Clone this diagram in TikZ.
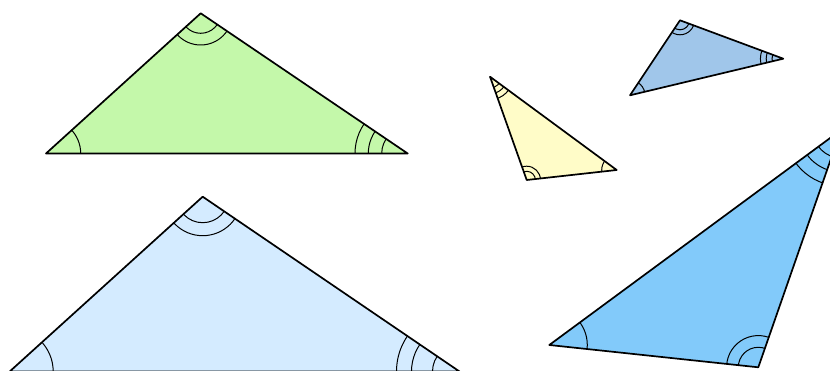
\documentclass[tikz,border=0pt]{standalone}
\usepackage{tikz}

\definecolor{greenfill}{RGB}{196,248,170}
\definecolor{palefill}{RGB}{212,235,255}
\definecolor{yellowfill}{RGB}{255,252,200}
\definecolor{steelfill}{RGB}{160,198,234}
\definecolor{skyfill}{RGB}{130,202,250}

\begin{document}
\begin{tikzpicture}[
  x=1pt, y=-1pt,
  tri/.style={draw=black, line width=1.7pt, line join=round},
  angarc/.style={draw=black, line width=1pt}
]
  \useasboundingbox (0,0) rectangle (830,371);
  \clip (0,0) rectangle (830,371);

  % vertices: 1 = one arc, 2 = two arcs, 3 = three arcs
  \coordinate (g1) at (46,153.5);
  \coordinate (g2) at (200.7,13.3);
  \coordinate (g3) at (407.7,153.5);

  \coordinate (b1) at (9.7,371.5);
  \coordinate (b2) at (202.7,196.7);
  \coordinate (b3) at (459.5,371.5);

  \coordinate (y1) at (616.7,170);
  \coordinate (y2) at (526.7,180);
  \coordinate (y3) at (490,76.7);

  \coordinate (s1) at (630,95.3);
  \coordinate (s2) at (680,20.3);
  \coordinate (s3) at (783.3,58.7);

  \coordinate (k1) at (549.3,345);
  \coordinate (k2) at (758.3,367.3);
  \coordinate (k3) at (841,130);

  % green triangle
  \fill[greenfill] (g1) -- (g2) -- (g3) -- cycle;
  \begin{scope}
    \clip (g1) -- (g2) -- (g3) -- cycle;
    \draw[angarc] (g1) circle[radius=34.7pt];
    \foreach \r in {20,31.7} \draw[angarc] (g2) circle[radius=\r pt];
    \foreach \r in {26,39.4,52.7} \draw[angarc] (g3) circle[radius=\r pt];
  \end{scope}
  \draw[tri] (g1) -- (g2) -- (g3) -- cycle;

  % large pale blue triangle
  \fill[palefill] (b1) -- (b2) -- (b3) -- cycle;
  \begin{scope}
    \clip (b1) -- (b2) -- (b3) -- cycle;
    \draw[angarc] (b1) circle[radius=43.5pt];
    \foreach \r in {26,39} \draw[angarc] (b2) circle[radius=\r pt];
    \foreach \r in {27,48,63} \draw[angarc] (b3) circle[radius=\r pt];
  \end{scope}
  \draw[tri] (b1) -- (b2) -- (b3) -- cycle;

  % small yellow triangle
  \fill[yellowfill] (y1) -- (y2) -- (y3) -- cycle;
  \begin{scope}
    \clip (y1) -- (y2) -- (y3) -- cycle;
    \draw[angarc] (y1) circle[radius=15pt];
    \foreach \r in {8.7,13.8} \draw[angarc] (y2) circle[radius=\r pt];
    \foreach \r in {11.3,17.1,22.9} \draw[angarc] (y3) circle[radius=\r pt];
  \end{scope}
  \draw[tri] (y1) -- (y2) -- (y3) -- cycle;

  % small steel blue triangle
  \fill[steelfill] (s1) -- (s2) -- (s3) -- cycle;
  \begin{scope}
    \clip (s1) -- (s2) -- (s3) -- cycle;
    \draw[angarc] (s1) circle[radius=15pt];
    \foreach \r in {9.5,14.5} \draw[angarc] (s2) circle[radius=\r pt];
    \foreach \r in {11.3,17.1,22.9} \draw[angarc] (s3) circle[radius=\r pt];
  \end{scope}
  \draw[tri] (s1) -- (s2) -- (s3) -- cycle;

  % sky blue triangle, cut by the right edge
  \fill[skyfill] (k1) -- (k2) -- (k3) -- cycle;
  \begin{scope}
    \clip (k1) -- (k2) -- (k3) -- cycle;
    \draw[angarc] (k1) circle[radius=38pt];
    \foreach \r in {20,31.7} \draw[angarc] (k2) circle[radius=\r pt];
    \foreach \r in {28,42,56} \draw[angarc] (k3) circle[radius=\r pt];
  \end{scope}
  \draw[tri] (k1) -- (k2) -- (k3) -- cycle;
\end{tikzpicture}
\end{document}
